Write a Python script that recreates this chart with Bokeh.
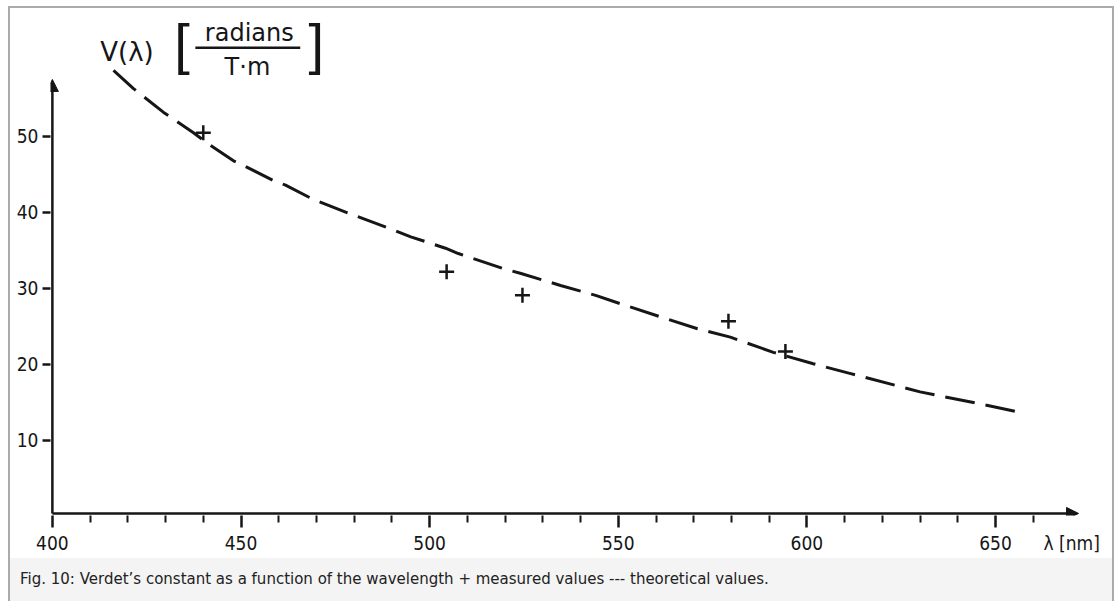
from bokeh.plotting import figure
from bokeh.models import (Range1d, FixedTicker, Label, Arrow, NormalHead, BoxAnnotation, Div,
                          LinearAxis, CustomLabelingPolicy)
from bokeh.layouts import column, row
from bokeh.embed import file_html
from bokeh.resources import INLINE

# ---- data ----
lam_theory = [416.2, 421.5, 429.4, 437.4, 441.1, 448.0, 450.6, 458.6, 461.8, 469.2,
              478.5, 487.7, 495.0, 504.2, 507.6, 519.6, 524.0, 534.7, 544.0, 551.1,
              561.0, 571.0, 579.7, 591.1, 601.7, 611.6, 630.0, 645.0, 655.6]
v_theory = [58.7, 56.3, 53.2, 50.5, 49.1, 46.8, 46.2, 44.2, 43.6, 41.7,
            39.9, 38.2, 36.8, 35.3, 34.6, 32.6, 32.0, 30.4, 29.1, 27.9,
            26.3, 24.7, 23.6, 21.6, 20.1, 18.8, 16.4, 14.9, 13.8]
lam_measured = [440.0, 504.5, 524.6, 579.2, 594.3]
v_measured = [50.5, 32.2, 29.1, 25.7, 21.7]
x_ticks = [400, 450, 500, 550, 600, 650]
x_minor_ticks = [410, 420, 430, 440, 460, 470, 480, 490, 510, 520, 530, 540,
                 560, 570, 580, 590, 610, 620, 630, 640, 660]
x_unit_pos = 670.2
x_unit_label = "\u03bb [nm]"
y_ticks = [10, 20, 30, 40, 50]
caption = "Fig. 10: Verdet\u2019s constant as a function of the wavelength + measured values --- theoretical values."

INK = "#161616"
TICK_FONT = "DejaVu Sans Condensed, DejaVu Sans"

p = figure(width=1102, height=550,
           x_range=Range1d(399.5, 681.0), y_range=Range1d(0.13, 66.84),
           output_backend="svg", toolbar_location=None,
           min_border_left=40, min_border_right=0, min_border_top=0, min_border_bottom=43)
p.xgrid.visible = False
p.ygrid.visible = False
p.outline_line_color = None
p.background_fill_color = "white"
p.border_fill_color = "white"

# x axis 1: tick marks only (labels suppressed by policy)
xa = p.xaxis[0]
xa.ticker = FixedTicker(ticks=x_ticks, minor_ticks=x_minor_ticks)
xa.axis_line_color = None
xa.major_tick_in = 0
xa.major_tick_out = 12
xa.major_tick_line_width = 2.5
xa.major_tick_line_color = INK
xa.minor_tick_in = 0
xa.minor_tick_out = 7
xa.minor_tick_line_width = 2
xa.minor_tick_line_color = INK
xa.major_label_standoff = 0
xa.major_label_text_font_size = "1px"
xa.major_label_policy = CustomLabelingPolicy(
    code="for (const i of indices) { indices.unset(i) }\nreturn indices")

# x axis 2: labels only (numbers + unit)
xl = LinearAxis(ticker=FixedTicker(ticks=x_ticks + [x_unit_pos], minor_ticks=[]),
                major_label_overrides={x_unit_pos: x_unit_label})
xl.axis_line_color = None
xl.major_tick_in = 0
xl.major_tick_out = 0
xl.minor_tick_in = 0
xl.minor_tick_out = 0
xl.major_label_text_font = TICK_FONT
xl.major_label_text_font_size = "19px"
xl.major_label_text_color = INK
xl.major_label_standoff = 0
p.add_layout(xl, "below")

ya = p.yaxis[0]
ya.ticker = FixedTicker(ticks=y_ticks, minor_ticks=[])
ya.axis_line_color = None
ya.major_tick_in = 0
ya.major_tick_out = 8
ya.major_tick_line_width = 2.5
ya.major_tick_line_color = INK
ya.minor_tick_out = 0
ya.major_label_text_font = TICK_FONT
ya.major_label_text_font_size = "19px"
ya.major_label_text_color = INK
ya.major_label_standoff = 4

# axis arrows
p.add_layout(Arrow(end=NormalHead(size=12, fill_color=INK, line_color=INK),
                   x_start=400, y_start=0.4, x_end=400, y_end=57.5,
                   line_width=2.5, line_color=INK))
p.add_layout(Arrow(end=NormalHead(size=12, fill_color=INK, line_color=INK),
                   x_start=400, y_start=0.4, x_end=672, y_end=0.4,
                   line_width=2.5, line_color=INK))

# theoretical curve and measured points
p.line(lam_theory, v_theory, line_width=3, line_dash="30 11", line_color=INK)
p.scatter(lam_measured, v_measured, marker="cross", size=15, line_width=2.5, line_color=INK)

# y-axis title  V(lambda) [radians / T.m]
p.add_layout(Label(x=412.7, y=61.1, text="V(\u03bb)", text_font="DejaVu Sans",
                   text_font_size="26px", text_color=INK, text_baseline="middle"))
p.add_layout(Label(x=432.3, y=62.3, text="[", text_font="Liberation Sans",
                   text_font_size="56px", text_color=INK, text_baseline="middle"))
p.add_layout(Label(x=452.2, y=63.6, text="radians", text_font="DejaVu Sans",
                   text_font_size="24px", text_color=INK, text_align="center",
                   text_baseline="middle"))
p.add_layout(BoxAnnotation(left=437.9, right=465.7, bottom=61.5, top=61.84,
                           fill_color=INK, fill_alpha=1, line_color=None))
p.add_layout(Label(x=451.7, y=59.2, text="T\u00b7m", text_font="DejaVu Sans",
                   text_font_size="24px", text_color=INK, text_align="center",
                   text_baseline="middle"))
p.add_layout(Label(x=467.9, y=62.3, text="]", text_font="Liberation Sans",
                   text_font_size="56px", text_color=INK, text_baseline="middle"))

cap = Div(text='<div style="padding:11px 0 0 10px;font-family:\'DejaVu Sans\';font-size:15px;'
               'color:#222;line-height:20px;white-space:nowrap">' + caption + '</div>',
          width=1102, height=43, margin=0,
          styles={"background-color": "#f4f4f4"})

GRAY = {"background-color": "#ababab"}
top_bar = Div(text="", width=1106, height=2, margin=(6, 0, 0, 8), styles=GRAY)
left_bar = Div(text="", width=2, height=593, margin=(0, 0, 0, 8), styles=GRAY)
right_bar = Div(text="", width=2, height=593, margin=0, styles=GRAY)

layout = column(top_bar, row(left_bar, column(p, cap), right_bar))

open("out.html", "w").write(file_html(layout, INLINE))
